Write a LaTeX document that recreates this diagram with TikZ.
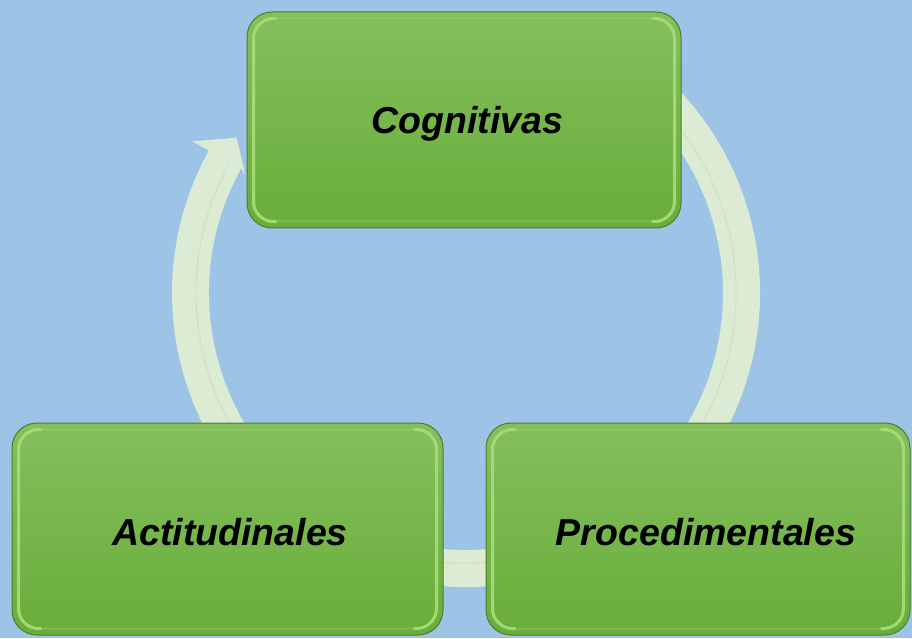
\documentclass[tikz,border=0pt]{standalone}
\usepackage{fontspec}
\setmainfont{Liberation Sans}
\definecolor{bg}{HTML}{9DC3E6}
\definecolor{boxtop}{HTML}{84BF5C}
\definecolor{boxbot}{HTML}{69AD3B}
\definecolor{boxedge}{HTML}{4E7D2C}
\definecolor{bevel}{HTML}{A8DC7A}
\definecolor{ring}{HTML}{DCEBD3}
\definecolor{ringedge}{HTML}{CCDEC2}
\begin{document}
\begin{tikzpicture}[x=1pt,y=1pt,
  box/.style={rounded corners=25pt, draw=boxedge, line width=1pt,
    top color=boxtop, bottom color=boxbot, inner sep=0pt},
  bevfaint/.style={draw=bevel, line width=2pt, opacity=.3, rounded corners=20pt},
  bevside/.style={draw=bevel, line width=3pt, opacity=.9, rounded corners=20pt},
  lbl/.style={font=\bfseries\itshape\fontsize{37.5}{40}\selectfont, anchor=base, inner sep=0pt}]
\fill[bg] (0,0) rectangle (912,638);
\useasboundingbox (0,0) rectangle (912,638);
% cycle arrow behind the boxes
\begin{scope}[shift={(466,345)}]
  \fill[ring] (70:294) arc[start angle=70,end angle=-209,radius=294]
    -- (151:313) -- (145.9:277) -- (151.9:250) -- (151:257)
    arc[start angle=-209,end angle=70,radius=257] -- cycle;
  \draw[ringedge, line width=0.8pt] (70:270) arc[start angle=70,end angle=-209,radius=270];
\end{scope}
% boxes
\node[box, minimum width=434pt, minimum height=216pt] (cog) at (464,518) {};
\node[box, minimum width=431pt, minimum height=212pt] (act) at (227.5,109) {};
\node[box, minimum width=424pt, minimum height=212pt] (proc) at (698,109) {};
\foreach \b in {cog,act,proc}{
  \draw[bevfaint] ([shift={(7pt,-7pt)}]\b.north west) rectangle ([shift={(-7pt,7pt)}]\b.south east);
  \draw[bevside] ([shift={(30pt,-7pt)}]\b.north west) -- ([shift={(7pt,-7pt)}]\b.north west)
     -- ([shift={(7pt,7pt)}]\b.south west) -- ([shift={(30pt,7pt)}]\b.south west);
  \draw[bevside] ([shift={(-30pt,-7pt)}]\b.north east) -- ([shift={(-7pt,-7pt)}]\b.north east)
     -- ([shift={(-7pt,7pt)}]\b.south east) -- ([shift={(-30pt,7pt)}]\b.south east);
}
% labels
\node[lbl] (cogt) at (467.5,504) {Cognitivas};
\node[lbl] (actt) at (230,93) {Actitudinales};
\node[lbl] (proct) at (706,93) {Procedimentales};
\end{tikzpicture}
\end{document}
